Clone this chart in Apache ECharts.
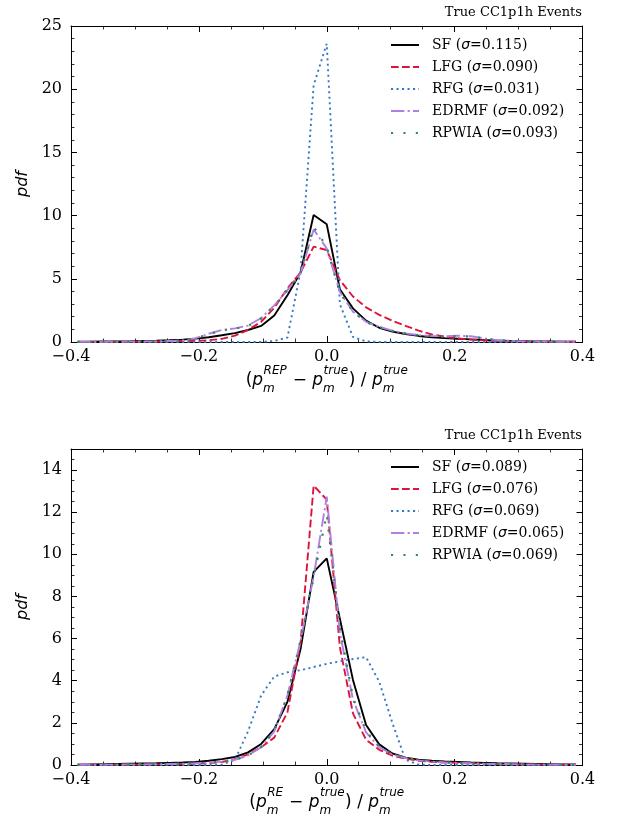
<!DOCTYPE html>
<html>
<head>
<meta charset="utf-8">
<script src="https://cdn.jsdelivr.net/npm/echarts@6/dist/echarts.min.js"></script>
<style>
html,body{margin:0;padding:0;background:#fff;}
#c{width:618px;height:817px;}
</style>
</head>
<body>
<div id="c"></div>
<script>
// ---------- data ----------
const xCenters = [-0.3897,-0.3692,-0.3487,-0.3282,-0.3077,-0.2872,-0.2667,-0.2462,-0.2256,-0.2051,
  -0.1846,-0.1641,-0.1436,-0.1231,-0.1026,-0.0821,-0.0615,-0.0410,-0.0205,0.0,
  0.0205,0.0410,0.0615,0.0821,0.1026,0.1231,0.1436,0.1641,0.1846,0.2051,
  0.2256,0.2462,0.2667,0.2872,0.3077,0.3282,0.3487,0.3692,0.3897];

const xTicks = [-0.4,-0.2,0.0,0.2,0.4];
const yTicksTop = [0,5,10,15,20,25];
const yTicksBottom = [0,2,4,6,8,10,12,14];

const seriesNames = ['SF','LFG','RFG','EDRMF','RPWIA'];
const sigmaTop = ['0.115','0.090','0.031','0.092','0.093'];
const sigmaBottom = ['0.089','0.076','0.069','0.065','0.069'];
const panelTitle = 'True CC1p1h Events';

// top panel (REP)
const topSF = [0.02,0.03,0.04,0.05,0.06,0.08,0.10,0.14,0.19,
  0.27,0.38,0.53,0.70,0.95,1.27,2.10,3.70,5.50,
  10.05,9.31,
  4.17,2.66,1.69,1.13,0.82,0.63,0.48,0.38,0.31,0.26,
  0.21,0.16,0.12,0.09,0.07,0.05,0.04,0.03,0.02];
const topLFG = [0.01,0.01,0.02,0.02,0.03,0.03,0.04,0.05,0.07,
  0.09,0.14,0.25,0.50,0.95,1.60,2.70,4.25,5.50,
  7.54,7.28,
  4.90,3.60,2.74,2.15,1.68,1.28,0.90,0.60,0.42,0.28,
  0.19,0.13,0.09,0.06,0.05,0.04,0.03,0.02,0.02];
const topRFG = [0,0,0,0,0,0,0,0,0,
  0,0,0,0,0,0.01,0.08,0.35,5.60,
  20.30,23.60,
  3.00,0.40,0.05,0,0,0,0,0,0,0,
  0,0,0,0,0,0,0,0,0];
const topEDRMF = [0.01,0.02,0.02,0.03,0.04,0.05,0.06,0.08,0.12,
  0.30,0.65,0.95,1.08,1.30,1.90,2.90,4.10,5.40,
  8.90,7.40,
  3.98,2.40,1.60,1.20,0.90,0.68,0.55,0.48,0.45,0.50,
  0.45,0.30,0.15,0.08,0.05,0.04,0.03,0.02,0.02];
const topRPWIA = [0.01,0.02,0.02,0.03,0.04,0.05,0.06,0.08,0.12,
  0.28,0.62,0.92,1.05,1.28,1.85,2.85,4.10,5.45,
  9.10,7.55,
  3.90,2.40,1.58,1.18,0.88,0.68,0.55,0.48,0.45,0.48,
  0.43,0.28,0.14,0.08,0.05,0.04,0.03,0.02,0.02];

// bottom panel (RE)
const botSF = [0.02,0.03,0.04,0.05,0.06,0.07,0.08,0.10,0.12,
  0.15,0.20,0.28,0.38,0.60,1.00,1.70,3.00,5.50,
  9.17,9.81,
  6.94,4.04,1.90,0.98,0.55,0.35,0.25,0.20,0.17,0.15,
  0.12,0.10,0.08,0.07,0.06,0.05,0.04,0.03,0.03];
const botLFG = [0.01,0.01,0.01,0.02,0.02,0.02,0.03,0.03,0.04,
  0.06,0.09,0.14,0.28,0.50,0.85,1.30,2.50,5.80,
  13.26,12.60,
  5.60,2.45,1.20,0.72,0.45,0.30,0.20,0.15,0.12,0.10,
  0.08,0.06,0.05,0.04,0.03,0.02,0.02,0.01,0.01];
const botRFG = [0,0,0,0,0,0,0,0,0,
  0,0,0.02,0.24,1.60,3.30,4.20,4.40,4.50,
  4.65,4.80,
  4.92,5.03,5.12,3.95,2.00,0.25,0.02,0,0,0,
  0,0,0,0,0,0,0,0,0];
const botEDRMF = [0.01,0.01,0.02,0.02,0.03,0.03,0.04,0.05,0.06,
  0.08,0.11,0.16,0.25,0.45,0.85,1.60,3.30,5.90,
  8.95,12.74,
  6.30,3.10,1.55,0.85,0.50,0.33,0.22,0.16,0.12,0.10,
  0.08,0.06,0.05,0.04,0.03,0.02,0.02,0.01,0.01];
const botRPWIA = [0.01,0.01,0.02,0.02,0.03,0.03,0.04,0.05,0.06,
  0.08,0.11,0.16,0.25,0.45,0.85,1.60,3.30,5.90,
  8.90,11.90,
  6.50,3.20,1.60,0.88,0.52,0.34,0.23,0.17,0.12,0.10,
  0.08,0.06,0.05,0.04,0.03,0.02,0.02,0.01,0.01];

// ---------- styles ----------
const colors = ['#000000','#dc143c','#3b78c3','#b07fe6','#2e8b57'];
const dashes = ['solid',[7.7,3.3],[2.1,3.4],[13.3,3.3,2.1,3.3],[2.1,10.3]];
const SERIF = '"DejaVu Serif", "Liberation Serif", serif';
const SANS = '"DejaVu Sans", sans-serif';

const G = [
  {left:71, top:26, width:511.5, height:316},
  {left:71, top:449, width:511.5, height:316}
];

function fmtX(v){
  const s = (Math.round(v*10)/10).toFixed(1);
  return s.replace('-', '\u2212');
}

function mkAxisX(gi, pos, showLabel){
  return {
    type:'value', gridIndex:gi, position:pos, min:-0.4, max:0.4, interval:0.2,
    axisLine:{show:true, onZero:false, lineStyle:{color:'#000', width:1}},
    axisTick:{show:true, inside:true, length:6, lineStyle:{color:'#000', width:1}},
    minorTick:{show:true, splitNumber:4, length:3.5, lineStyle:{color:'#000', width:0.8}},
    axisLabel:{show:showLabel, formatter:fmtX, fontFamily:SERIF, fontSize:16, color:'#000', margin:7},
    splitLine:{show:false}, minorSplitLine:{show:false}
  };
}
function mkAxisY(gi, pos, showLabel, max, interval, minorSplit, nameStr){
  const ax = {
    type:'value', gridIndex:gi, position:pos, min:0, max:max, interval:interval,
    axisLine:{show:true, onZero:false, lineStyle:{color:'#000', width:1}},
    axisTick:{show:true, inside:true, length:6, lineStyle:{color:'#000', width:1}},
    minorTick:{show:minorSplit>0, splitNumber:minorSplit||5, length:3.5, lineStyle:{color:'#000', width:0.8}},
    axisLabel:{show:showLabel, fontFamily:SERIF, fontSize:16, color:'#000', margin:9,
      formatter:function(v){ const r = v/interval; return Math.abs(r - Math.round(r)) < 1e-6 ? String(v) : ''; }},
    splitLine:{show:false}, minorSplitLine:{show:false}
  };
  if(nameStr){
    ax.name = nameStr; ax.nameLocation='middle'; ax.nameRotate=90; ax.nameGap=37;
    ax.nameTextStyle = {fontFamily:SANS, fontStyle:'italic', fontSize:16, color:'#000'};
  }
  return ax;
}
function mkMinorY(gi, pos, max, step){
  return {
    type:'value', gridIndex:gi, position:pos, min:0, max:max, interval:step,
    axisLine:{show:false, onZero:false}, axisLabel:{show:false}, splitLine:{show:false},
    axisTick:{show:true, inside:true, length:3.5, lineStyle:{color:'#000', width:0.8}}
  };
}

const xAxes = [mkAxisX(0,'bottom',true), mkAxisX(0,'top',false), mkAxisX(1,'bottom',true), mkAxisX(1,'top',false)];
const yAxes = [
  mkAxisY(0,'left',true,25,5,5,'pdf'),
  mkAxisY(0,'right',false,25,5,5,null),
  mkAxisY(1,'left',true,15,2,0,'pdf'),
  mkAxisY(1,'right',false,15,2,0,null),
  mkMinorY(1,'left',15,0.5),
  mkMinorY(1,'right',15,0.5)
];

const topData = [topSF, topLFG, topRFG, topEDRMF, topRPWIA];
const botData = [botSF, botLFG, botRFG, botEDRMF, botRPWIA];

const series = [];
function addSeries(dataSets, gi, suffix){
  dataSets.forEach((vals, i) => {
    series.push({
      name: seriesNames[i] + suffix, type:'line',
      xAxisIndex: gi*2, yAxisIndex: gi*2,
      data: xCenters.map((x, k) => [x, vals[k]]),
      symbol:'none', showSymbol:false, smooth:false, clip:true,
      lineStyle:{color:colors[i], width: (i===4 ? 2.2 : 1.9), type:dashes[i], cap:'butt'},
      itemStyle:{color:colors[i]},
      emphasis:{disabled:true}, z: 2+i
    });
  });
}
addSeries(topData, 0, '');
addSeries(botData, 1, ' ');

function legendFor(suffix, sig, top){
  return {
    orient:'vertical', left:390, top:top, padding:0, itemWidth:28, itemHeight:14, itemGap:8,
    data: seriesNames.map(n => n + suffix),
    selectedMode:false,
    itemStyle:{opacity:0, borderWidth:0},
    formatter: function(name){
      const i = seriesNames.indexOf(name.trim());
      return '{n0|' + seriesNames[i] + ' (}{s|\u03c3}{n|=' + sig[i] + ')}';
    },
    textStyle:{color:'#000', rich:{
      n0:{fontFamily:SERIF, fontSize:14, color:'#000', padding:[0,0,0,8]},
      n:{fontFamily:SERIF, fontSize:14, color:'#000'},
      s:{fontFamily:SANS, fontStyle:'italic', fontSize:14, color:'#000'}
    }}
  };
}

// math-style x axis label built from text pieces
function mathLabel(parts, cx, baseY, size){
  const ctx = document.createElement('canvas').getContext('2d');
  const small = Math.round(size*0.7);
  const meas = (t, sz, it) => { ctx.font = (it?'italic ':'') + sz + 'px "DejaVu Sans"'; return ctx.measureText(t).width; };
  const items = []; let x = 0;
  parts.forEach(p => {
    items.push({t:p.t, x:x, dy:0, sz:size, it:p.it});
    x += meas(p.t, size, p.it);
    if(p.sup || p.sub){
      const ws = p.sup ? meas(p.sup, small, true) : 0;
      const wb = p.sub ? meas(p.sub, small, true) : 0;
      if(p.sup) items.push({t:p.sup, x:x+0.5, dy:-size*0.72, sz:small, it:true});
      if(p.sub) items.push({t:p.sub, x:x, dy:size*0.33, sz:small, it:true});
      x += Math.max(ws, wb) + 1;
    }
  });
  const x0 = cx - x/2;
  return items.map(o => ({
    type:'text', x: x0 + o.x, y: baseY + o.dy - o.sz*0.35, silent:true,
    style:{text:o.t, fontFamily:'DejaVu Sans', fontSize:o.sz, fontStyle:o.it?'italic':'normal',
      fill:'#000', align:'left', verticalAlign:'middle'}
  }));
}
const lblTop = [{t:'(',it:false},{t:'p',it:true,sup:'REP',sub:'m'},{t:' \u2212 ',it:false},
  {t:'p',it:true,sup:'true',sub:'m'},{t:') / ',it:false},{t:'p',it:true,sup:'true',sub:'m'}];
const lblBot = [{t:'(',it:false},{t:'p',it:true,sup:'RE',sub:'m'},{t:' \u2212 ',it:false},
  {t:'p',it:true,sup:'true',sub:'m'},{t:') / ',it:false},{t:'p',it:true,sup:'true',sub:'m'}];

const chart = echarts.init(document.getElementById('c'), null, {renderer:'canvas'});
chart.setOption({
  animation:false,
  backgroundColor:'#fff',
  title:[
    {text:panelTitle, right:36, top:6, padding:0, textStyle:{fontFamily:SERIF, fontSize:13, fontWeight:'normal', color:'#000'}},
    {text:panelTitle, right:36, top:429, padding:0, textStyle:{fontFamily:SERIF, fontSize:13, fontWeight:'normal', color:'#000'}}
  ],
  legend:[legendFor('', sigmaTop, 38), legendFor(' ', sigmaBottom, 460)],
  grid: G.map(g => Object.assign({containLabel:false, outerBoundsMode:'none'}, g)),
  xAxis: xAxes,
  yAxis: yAxes,
  series: series,
  graphic: mathLabel(lblTop, 327, 387, 17).concat(mathLabel(lblBot, 327, 809, 17))
});
</script>
</body>
</html>
